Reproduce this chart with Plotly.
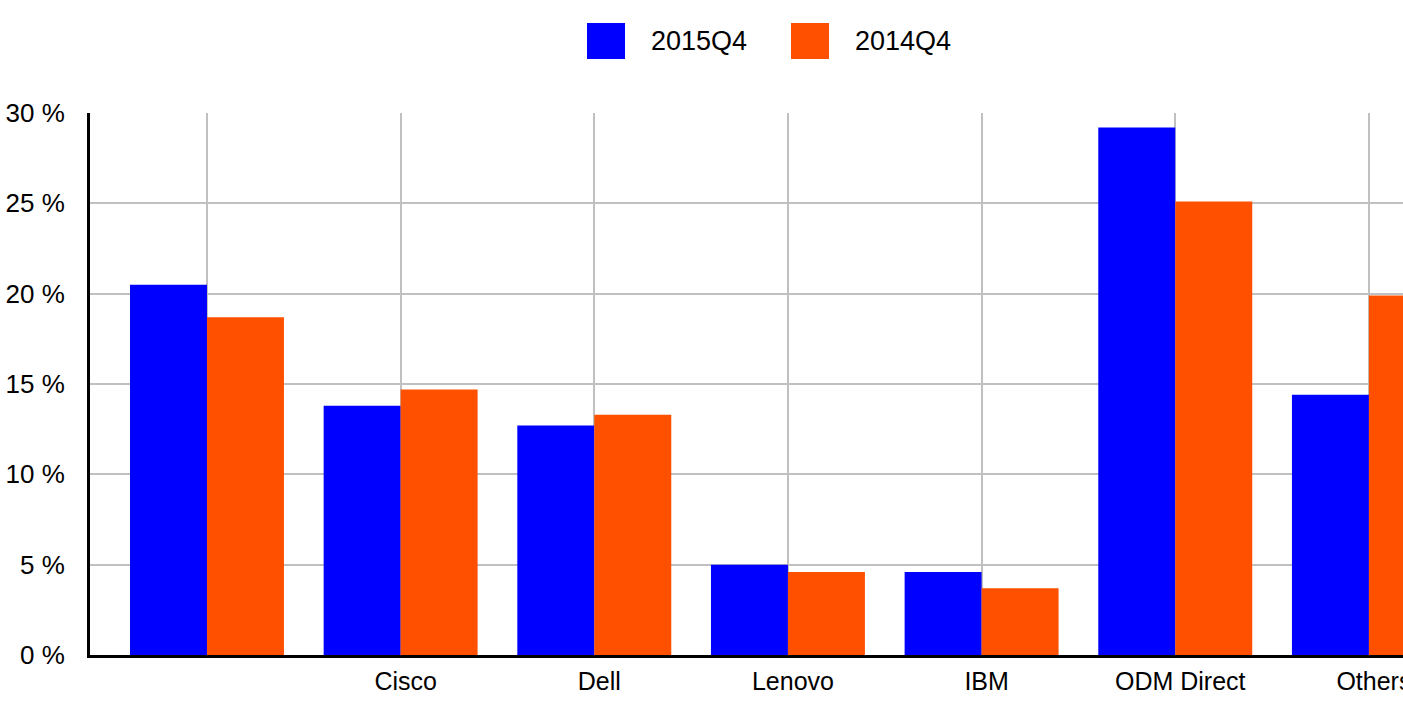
import plotly.graph_objects as go

categories = ["HPE", "Cisco", "Dell", "Lenovo", "IBM", "ODM Direct", "Others"]
tick_labels = ["", "Cisco", "Dell", "Lenovo", "IBM", "ODM Direct", "Others"]
series_names = ["2015Q4", "2014Q4"]
values_2015q4 = [20.5, 13.8, 12.7, 5.0, 4.6, 29.2, 14.4]
values_2014q4 = [18.7, 14.7, 13.3, 4.6, 3.7, 25.1, 19.9]
colors = ["#0000FF", "#FF5000"]
y_ticks = [0, 5, 10, 15, 20, 25, 30]
y_tick_labels = [f"{v} %" for v in y_ticks]

FONT = "Liberation Sans, Arial, sans-serif"

fig = go.Figure()
for name, vals, col in zip(series_names, [values_2015q4, values_2014q4], colors):
    fig.add_trace(go.Bar(x=categories, y=vals, name=name,
                         marker=dict(color=col, line=dict(width=0))))

fig.update_layout(
    width=1403, height=703,
    margin=dict(l=90, r=0, t=113, b=48, autoexpand=False),
    barmode="group", bargap=0.205, bargroupgap=0,
    plot_bgcolor="white", paper_bgcolor="white",
    showlegend=False,
    font=dict(family=FONT, size=25, color="black"),
)
fig.update_xaxes(
    type="category", range=[-0.604, 6.176], automargin=False,
    tickvals=categories, ticktext=tick_labels,
    showgrid=True, gridcolor="#C0C0C0", gridwidth=2,
    showline=True, linecolor="black", linewidth=3,
    ticks="", ticklabelstandoff=2, ticklabelshift=5,
    tickfont=dict(family=FONT, size=25, color="black"),
    layer="below traces",
)
fig.update_yaxes(
    range=[0, 30], tickvals=y_ticks, ticktext=y_tick_labels, automargin=False,
    showgrid=True, gridcolor="#C0C0C0", gridwidth=2,
    zeroline=False,
    showline=True, linecolor="black", linewidth=3,
    ticks="", ticklabelstandoff=17,
    tickfont=dict(family=FONT, size=26, color="black"),
    layer="below traces",
)

# legend drawn as swatches + text at the top centre
legend_x = [587, 791]
for name, col, lx in zip(series_names, colors, legend_x):
    fig.add_shape(type="rect", xref="paper", yref="paper",
                  x0=(lx - 90) / 1313, x1=(lx + 38 - 90) / 1313,
                  y0=1 + (113 - 59) / 542, y1=1 + (113 - 23) / 542,
                  fillcolor=col, line=dict(width=0))
    fig.add_annotation(text=name, xref="paper", yref="paper",
                       x=(lx + 62 - 90) / 1313, y=1 + (113 - 41) / 542,
                       xanchor="left", yanchor="middle", showarrow=False,
                       font=dict(family=FONT, size=27, color="black"))

# remove the default page margin so the figure fills the window exactly
fig.write_html("out.html", config={"displayModeBar": False},
               post_script="document.body.style.margin='0';document.body.style.overflow='hidden';")
